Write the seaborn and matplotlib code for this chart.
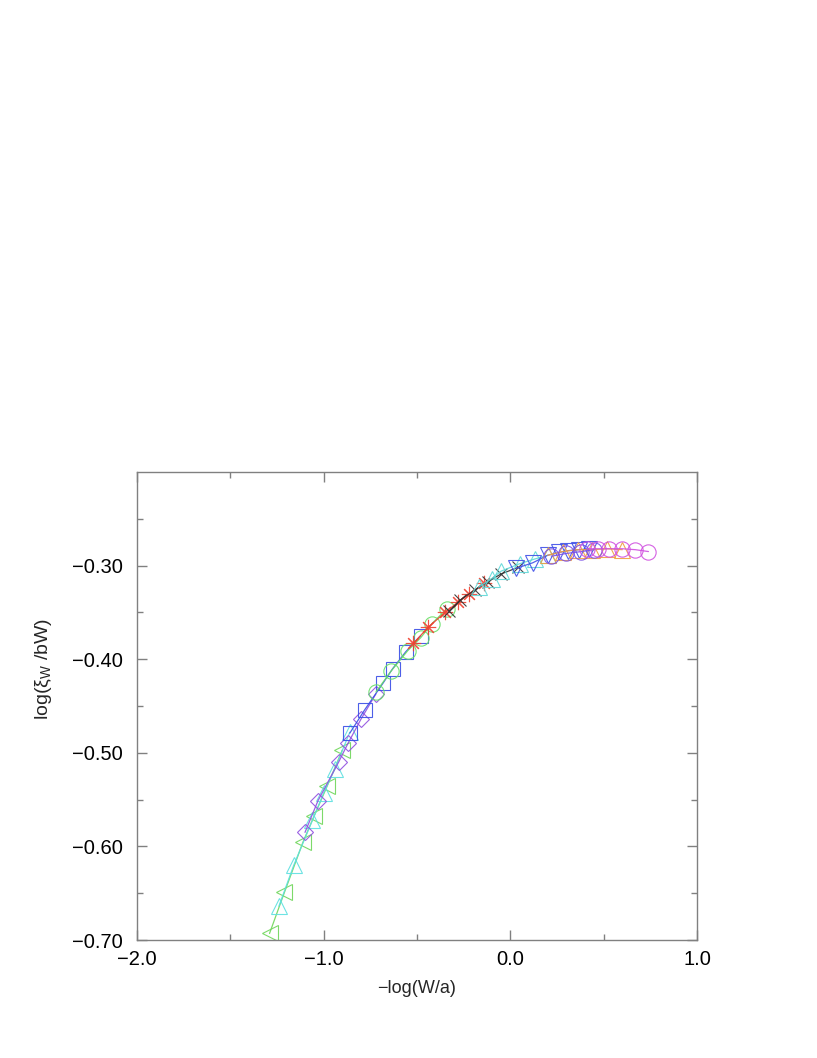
import matplotlib
matplotlib.use("Agg")
import matplotlib.pyplot as plt
import seaborn as sns
import numpy as np

sns.set_style("ticks")
plt.rcParams['font.family'] = ['Liberation Sans', 'DejaVu Sans']
plt.rcParams['mathtext.fontset'] = 'custom'
plt.rcParams['mathtext.rm'] = 'Liberation Sans'
plt.rcParams['mathtext.it'] = 'Liberation Sans:italic'

# ---- data ----
s1_x = [-1.29, -1.21, -1.11, -1.05, -0.98, -0.90]
s1_y = [-0.693, -0.649, -0.595, -0.567, -0.535, -0.497]

s2_x = [-1.24, -1.16, -1.06, -1.00, -0.94, -0.86]
s2_y = [-0.664, -0.620, -0.572, -0.543, -0.517, -0.478]

s3_x = [-1.10, -1.03, -0.92, -0.87, -0.80, -0.72]
s3_y = [-0.585, -0.551, -0.510, -0.490, -0.464, -0.437]

s4_x = [-0.86, -0.78, -0.68, -0.63, -0.56, -0.48]
s4_y = [-0.479, -0.454, -0.425, -0.410, -0.392, -0.375]

s5_x = [-0.72, -0.64, -0.55, -0.48, -0.42, -0.34]
s5_y = [-0.435, -0.413, -0.391, -0.377, -0.362, -0.346]

s6_x = [-0.52, -0.44, -0.35, -0.28, -0.22, -0.14]
s6_y = [-0.383, -0.366, -0.350, -0.339, -0.330, -0.319]

s7_x = [-0.33, -0.27, -0.19, -0.12, -0.05, 0.04]
s7_y = [-0.349, -0.337, -0.326, -0.317, -0.309, -0.302]

s8_x = [-0.17, -0.10, -0.05, 0.05, 0.13, 0.20]
s8_y = [-0.323, -0.314, -0.306, -0.298, -0.293, -0.289]

s9_x = [0.03, 0.12, 0.20, 0.26, 0.31, 0.37, 0.42]
s9_y = [-0.303, -0.297, -0.289, -0.286, -0.284, -0.283, -0.282]

s10_x = [0.20, 0.28, 0.36, 0.44, 0.52, 0.60]
s10_y = [-0.289, -0.285, -0.283, -0.283, -0.282, -0.283]

s11_x = [0.22, 0.30, 0.38, 0.45]
s11_y = [-0.290, -0.287, -0.285, -0.283]

s12_x = [0.41, 0.47, 0.53, 0.60, 0.67, 0.74]
s12_y = [-0.282, -0.282, -0.282, -0.282, -0.283, -0.285]

series = [
    (s1_x, s1_y, '<', '#6fd65a'),
    (s2_x, s2_y, '^', '#5ee0e0'),
    (s3_x, s3_y, 'D', '#9050e0'),
    (s4_x, s4_y, 's', '#3a4ee6'),
    (s5_x, s5_y, 'o', '#66e066'),
    (s6_x, s6_y, (8, 2, 0), '#f04030'),
    (s7_x, s7_y, 'x', '#303030'),
    (s8_x, s8_y, '^', '#60d8d8'),
    (s9_x, s9_y, 'v', '#4050e8'),
    (s10_x, s10_y, '^', '#f0a040'),
    (s11_x, s11_y, 'o', '#7a50e8'),
    (s12_x, s12_y, 'o', '#d050e0'),
]

sizes = {'<': 11, '^': 11, 'v': 11, 'o': 11, 's': 10, 'D': 8, 'x': 9}

fig = plt.figure(figsize=(8.17, 10.58), dpi=100)
ax = fig.add_axes([137/817, 1-940/1058, (697-137)/817, (940-472)/1058])

for xs, ys, mk, col in series:
    ms = sizes.get(mk, 11) if isinstance(mk, str) else 11
    sns.lineplot(x=xs, y=ys, ax=ax, sort=False, color=col, lw=0.9,
                 marker=mk, markersize=ms, markerfacecolor='none',
                 markeredgecolor=col, markeredgewidth=0.8, estimator=None,
                 alpha=0.9)

ax.set_xlim(-2.0, 1.0)
ax.set_ylim(-0.70, -0.20)
ax.set_xticks([-2.0, -1.0, 0.0, 1.0])
ax.set_xticklabels(['\u22122.0', '\u22121.0', '0.0', '1.0'])
ax.set_xticks([-1.5, -0.5, 0.5], minor=True)
ax.set_yticks([-0.70, -0.60, -0.50, -0.40, -0.30])
ax.set_yticklabels(['\u22120.70', '\u22120.60', '\u22120.50', '\u22120.40', '\u22120.30'])
ax.set_yticks([-0.65, -0.55, -0.45, -0.35, -0.25], minor=True)

for sp in ax.spines.values():
    sp.set_visible(True)
    sp.set_color('#808080')
    sp.set_linewidth(1.0)

ax.tick_params(which='both', direction='in', top=True, right=True,
               colors='#808080', labelcolor='black', labelsize=14.5, width=1.0)
ax.tick_params(which='major', length=7)
ax.tick_params(which='minor', length=4)
ax.tick_params(axis='x', pad=7)
ax.tick_params(axis='y', pad=10)

ax.set_xlabel('\u2212log(W/a)', fontsize=13)
ax.set_ylabel(r'log($\mathregular{\xi_W}$ /bW)', fontsize=14)
ax.xaxis.set_label_coords(0.5, -0.085)
ax.yaxis.set_label_coords(-0.148, 0.58)

fig.savefig('out.png', dpi=100)
